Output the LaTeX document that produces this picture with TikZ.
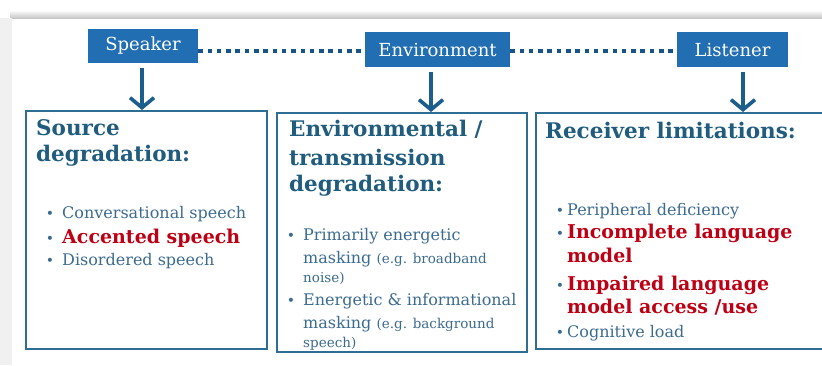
\documentclass[tikz,border=0pt]{standalone}
\usepackage{fontspec}
\setmainfont{DejaVu Serif}
\usetikzlibrary{arrows.meta,shadings}
\definecolor{hdrfill}{RGB}{33,110,178}
\definecolor{dotblue}{RGB}{23,84,138}
\definecolor{arrblue}{RGB}{27,94,142}
\definecolor{boxline}{RGB}{46,110,149}
\definecolor{ttlcol}{RGB}{31,92,126}
\definecolor{txtcol}{RGB}{59,107,143}
\definecolor{redcol}{RGB}{190,0,20}
\newcommand{\hdrsize}{\fontsize{18}{21}\selectfont}
\newcommand{\ttlsize}{\fontsize{21.5}{25}\selectfont}
\newcommand{\regsize}{\fontsize{16}{19}\selectfont}
\newcommand{\redsize}{\fontsize{19}{22}\selectfont}
\newcommand{\smlsize}{\fontsize{13.5}{16}\selectfont}
\newcommand{\bulsize}{\fontsize{14}{16}\selectfont}
\begin{document}
\begin{tikzpicture}[x=1pt,y=-1pt,
  hdr/.style={fill=hdrfill,text=white,inner sep=0pt,font=\hdrsize},
  dotline/.style={draw=dotblue,line width=4pt,dash pattern=on 4.5pt off 4.8pt},
  downarrow/.style={draw=arrblue,line width=3.6pt,-{Straight Barb[length=10pt,width=24pt]}},
  panel/.style={draw=boxline,line width=2pt,inner sep=0pt,anchor=north west},
  ttl/.style={anchor=base west,inner sep=0pt,text=ttlcol,font=\ttlsize\bfseries},
  reg/.style={anchor=base west,inner sep=0pt,text=txtcol,font=\regsize},
  sml/.style={anchor=base west,inner sep=0pt,text=txtcol,font=\smlsize},
  redb/.style={anchor=base west,inner sep=0pt,text=redcol,font=\redsize\bfseries},
  bul/.style={anchor=base,inner sep=0pt,text=txtcol,font=\bulsize}]
\useasboundingbox (0,0) rectangle (822,365);
\clip (0,0) rectangle (822,365);
% card frame
\fill[white] (0,0) rectangle (822,365);
\shade[top color=white,bottom color=black!22] (10,10) rectangle (822,18);
\fill[black!6] (0,18) rectangle (12,365);
% headers
\node[hdr,minimum width=110pt,minimum height=34pt] (spk) at (143,46) {Speaker};
\node[hdr,minimum width=145pt,minimum height=35pt] (env) at (437.5,49.5) {Environment};
\node[hdr,minimum width=111pt,minimum height=35pt] (lis) at (732.5,49.5) {Listener};
% panels
\node[panel,minimum width=241pt,minimum height=238pt] (b1) at (25,110) {};
\node[panel,minimum width=250pt,minimum height=239pt] (b2) at (276,112) {};
\node[panel,minimum width=300pt,minimum height=236pt] (b3) at (535,112) {};
% connectors
\draw[dotline] ([yshift=-5pt]spk.east) -- ([yshift=-1.5pt]env.west);
\draw[dotline] ([yshift=-1.5pt]env.east) -- ([yshift=-1.5pt]lis.west);
\draw[downarrow] ([xshift=-1pt,yshift=-5pt]spk.south) -- ([xshift=-1pt]spk.south |- b1.north);
\draw[downarrow] ([xshift=-6.5pt,yshift=-5pt]env.south) -- ([xshift=-6.5pt]env.south |- b2.north);
\draw[downarrow] ([xshift=10.5pt,yshift=-5pt]lis.south) -- ([xshift=10.5pt]lis.south |- b3.north);
% panel 1
\node[ttl] (t1a) at (36,135) {Source};
\node[ttl] (t1b) at (36,161) {degradation:};
\node[bul] (p1a) at (50,218) {•};
\node[reg] (l1a) at (62,218) {Conversational speech};
\node[bul] (p1b) at (50,243) {•};
\node[redb] (l1b) at (62,243) {Accented speech};
\node[bul] (p1c) at (50,265) {•};
\node[reg] (l1c) at (62,265) {Disordered speech};
% panel 2
\node[ttl] (t2a) at (289,136) {Environmental /};
\node[ttl] (t2b) at (289,165) {transmission};
\node[ttl] (t2c) at (289,191) {degradation:};
\node[bul] (p2a) at (291,240) {•};
\node[reg] (l2a) at (303,240) {Primarily energetic};
\node[reg] (l2b) at (303,263) {masking {\smlsize (e.g. broadband}};
\node[sml] (l2c) at (303,282) {noise)};
\node[bul] (p2b) at (291,305) {•};
\node[reg] (l2d) at (303,305) {Energetic \& informational};
\node[reg] (l2e) at (303,328) {masking {\smlsize (e.g. background}};
\node[sml] (l2f) at (303,347) {speech)};
% panel 3
\node[ttl] (t3a) at (545,138) {Receiver limitations:};
\node[bul] (p3a) at (560,215) {•};
\node[reg] (l3a) at (567,215) {Peripheral deficiency};
\node[bul] (p3b) at (560,238) {•};
\node[redb] (l3b) at (567,238) {Incomplete language};
\node[redb] (l3c) at (567,262) {model};
\node[bul] (p3c) at (560,290) {•};
\node[redb] (l3d) at (567,290) {Impaired language};
\node[redb] (l3e) at (567,313) {model access /use};
\node[bul] (p3d) at (560,337) {•};
\node[reg] (l3f) at (567,337) {Cognitive load};
\end{tikzpicture}
\end{document}
